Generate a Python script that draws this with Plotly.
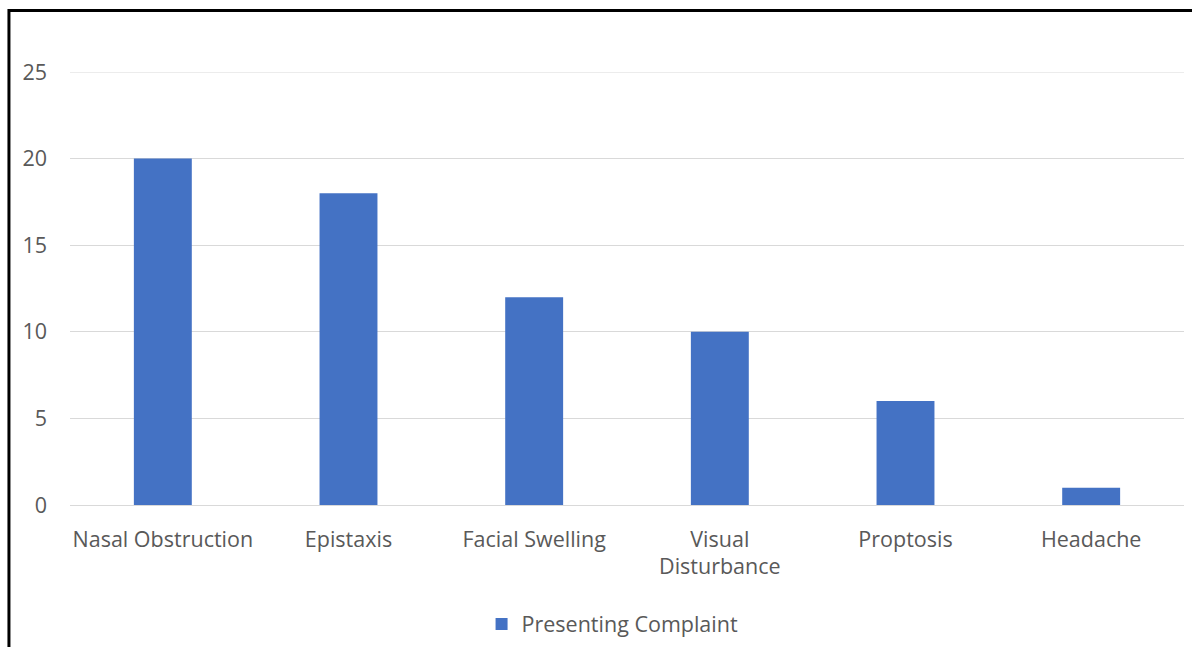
import plotly.graph_objects as go

# Presenting complaints and patient counts
complaints = ["Nasal Obstruction", "Epistaxis", "Facial Swelling",
              "Visual<br>Disturbance", "Proptosis", "Headache"]
counts = [20, 18, 12, 10, 6, 1]
series_name = "Presenting Complaint"
y_ticks = [0, 5, 10, 15, 20, 25]

fig = go.Figure()
fig.add_trace(go.Bar(
    x=complaints,
    y=counts,
    name=series_name,
    marker=dict(color="#4472C4", line=dict(width=0)),
    width=0.312,
    showlegend=True,
))

font_family = "Open Sans, Noto Sans, sans-serif"
text_color = "#595959"
grid_color = "#D9D9D9"
font_size = 21.5

fig.update_layout(
    width=1192,
    height=647,
    margin=dict(l=70, r=8, t=72, b=142),
    paper_bgcolor="white",
    plot_bgcolor="white",
    font=dict(family=font_family, size=font_size, color=text_color),
    showlegend=True,
    legend=dict(
        orientation="h",
        xref="container", yref="container",
        x=0.404, xanchor="left",
        y=0.0355, yanchor="middle",
        font=dict(size=font_size, color=text_color),
        itemwidth=30,
        bgcolor="rgba(0,0,0,0)",
    ),
    xaxis=dict(
        showgrid=False,
        showline=False,
        ticks="",
        tickfont=dict(size=font_size, color=text_color),
        ticklabelstandoff=19,
        automargin=False,
    ),
    yaxis=dict(
        range=[0, 25],
        tickvals=y_ticks,
        showgrid=True,
        gridcolor=grid_color,
        gridwidth=1,
        zeroline=True,
        zerolinecolor=grid_color,
        zerolinewidth=1,
        showline=False,
        ticks="",
        tickfont=dict(size=font_size, color=text_color),
        ticklabelstandoff=22,
        automargin=False,
    ),
    shapes=[
        # top gridline at the highest tick
        dict(type="line", xref="paper", yref="y",
             x0=0, x1=1, y0=y_ticks[-1], y1=y_ticks[-1],
             line=dict(color=grid_color, width=1), layer="below"),
        # chart frame along the top and left edges
        dict(type="rect", xref="paper", yref="paper",
             x0=-0.0548, x1=1.2, y0=-0.6, y1=1.142,
             line=dict(color="black", width=3), fillcolor="rgba(0,0,0,0)",
             layer="above"),
    ],
)

fig.write_html("out.html")
